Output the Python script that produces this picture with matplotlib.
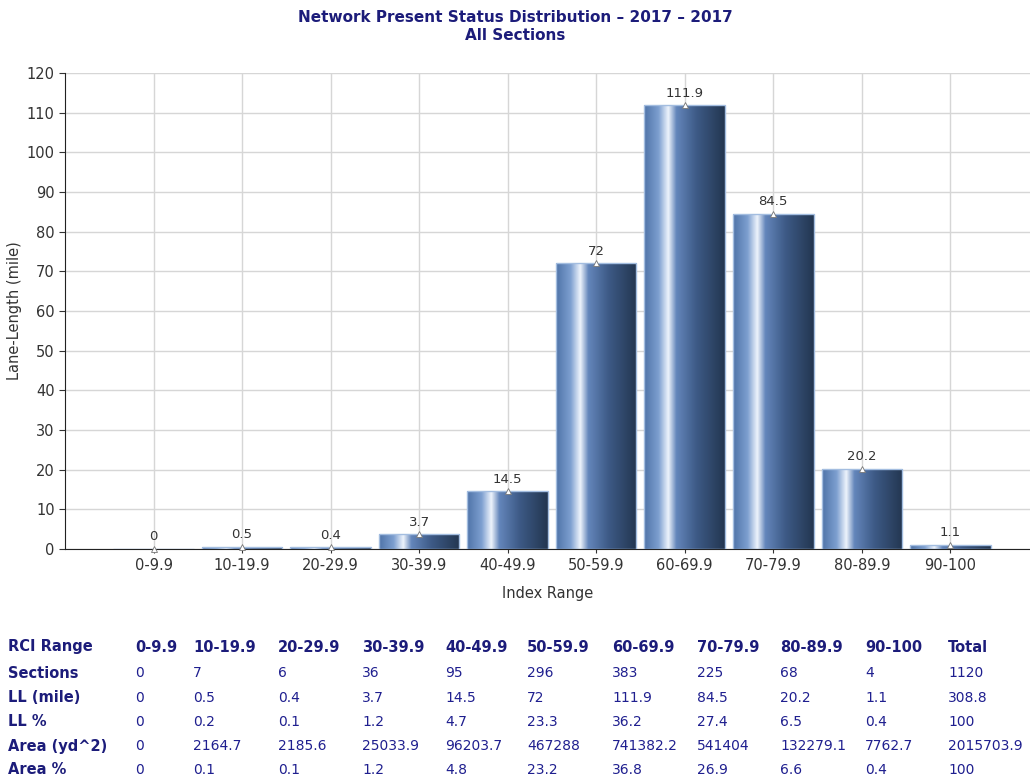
import numpy as np
import matplotlib
matplotlib.use("Agg")
import matplotlib.pyplot as plt
from matplotlib.colors import LinearSegmentedColormap

categories = ["0-9.9", "10-19.9", "20-29.9", "30-39.9", "40-49.9",
              "50-59.9", "60-69.9", "70-79.9", "80-89.9", "90-100"]
lane_length = [0, 0.5, 0.4, 3.7, 14.5, 72, 111.9, 84.5, 20.2, 1.1]

table_header = ["RCI Range"] + categories + ["Total"]
table_rows = [
    ["Sections", "0", "7", "6", "36", "95", "296", "383", "225", "68", "4", "1120"],
    ["LL (mile)", "0", "0.5", "0.4", "3.7", "14.5", "72", "111.9", "84.5", "20.2", "1.1", "308.8"],
    ["LL %", "0", "0.2", "0.1", "1.2", "4.7", "23.3", "36.2", "27.4", "6.5", "0.4", "100"],
    ["Area (yd^2)", "0", "2164.7", "2185.6", "25033.9", "96203.7", "467288", "741382.2",
     "541404", "132279.1", "7762.7", "2015703.9"],
    ["Area %", "0", "0.1", "0.1", "1.2", "4.8", "23.2", "36.8", "26.9", "6.6", "0.4", "100"],
]

W, H = 1030, 779
fig = plt.figure(figsize=(W / 100, H / 100), dpi=100)
ax_left, ax_right, ax_top, ax_bottom = 65, 1030, 73, 549
ax = fig.add_axes([ax_left / W, 1 - ax_bottom / H,
                   (ax_right - ax_left) / W, (ax_bottom - ax_top) / H])

x = np.arange(len(categories))
bars = ax.bar(x, lane_length, width=0.91, color="none", edgecolor="#a3bde0",
              linewidth=1.0, zorder=3)

grad_cmap = LinearSegmentedColormap.from_list("barg", [
    (0.0, "#4f73a8"), (0.18, "#7d9fd0"), (0.30, "#eef4fc"),
    (0.40, "#6486bb"), (0.65, "#3d5a86"), (1.0, "#233650")])
grad = np.linspace(0, 1, 256).reshape(1, -1)
for b in bars:
    x0, y0 = b.get_x(), b.get_y()
    w, h = b.get_width(), b.get_height()
    if h <= 0:
        continue
    im = ax.imshow(grad, cmap=grad_cmap, aspect="auto",
                   extent=[x0, x0 + w, y0, y0 + h], zorder=2, interpolation="bilinear")
    im.set_clip_path(b)

for xi, v in zip(x, lane_length):
    ax.plot(xi, v, marker="^", markersize=4, markerfacecolor="white",
            markeredgecolor="#777777", markeredgewidth=0.6, zorder=4, clip_on=False)
    ax.annotate(f"{v:g}", (xi, v), xytext=(0, 4), textcoords="offset points",
                ha="center", va="bottom", fontsize=9.5, color="#333333", zorder=5)

ax.set_xlim(-1, 9.9)
ax.set_ylim(0, 120)
ax.set_yticks(np.arange(0, 121, 10))
ax.set_xticks(x)
ax.set_xticklabels(categories)
ax.grid(True, color="#d6d6d6", linewidth=1.0, zorder=0)
ax.set_axisbelow(True)
for s in ["top", "right"]:
    ax.spines[s].set_visible(False)
ax.spines["left"].set_color("#222222")
ax.spines["bottom"].set_color("#222222")
ax.tick_params(axis="both", labelsize=10.5, colors="#333333", length=4, width=0.8)
ax.tick_params(axis="x", length=3)
ax.set_xlabel("Index Range", fontsize=10.5, color="#333333", labelpad=9)
ax.set_ylabel("Lane-Length (mile)", fontsize=10.5, color="#333333", labelpad=3)

fig.text(0.5, 1 - 17 / H, "Network Present Status Distribution \u2013 2017 \u2013 2017",
         ha="center", va="center", fontsize=11, fontweight="bold", color="#1c1c7a")
fig.text(0.5, 1 - 36 / H, "All Sections", ha="center", va="center",
         fontsize=11, fontweight="bold", color="#1c1c7a")

col_x = [8, 135, 193, 278, 362, 445, 527, 612, 697, 780, 865, 948]
row_y = [647, 673, 698, 722, 746, 770]
for cx, t in zip(col_x, table_header):
    fig.text(cx / W, 1 - row_y[0] / H, t, ha="left", va="center", fontsize=10.5,
             fontweight="bold", color="#1c1c7a")
for ry, row in zip(row_y[1:], table_rows):
    for ci, (cx, t) in enumerate(zip(col_x, row)):
        fig.text(cx / W, 1 - ry / H, t, ha="left", va="center",
                 fontsize=10.5 if ci == 0 else 10,
                 fontweight="bold" if ci == 0 else "normal",
                 color="#1c1c7a" if ci == 0 else "#1f1f8f")

fig.savefig("out.png", dpi=100)
